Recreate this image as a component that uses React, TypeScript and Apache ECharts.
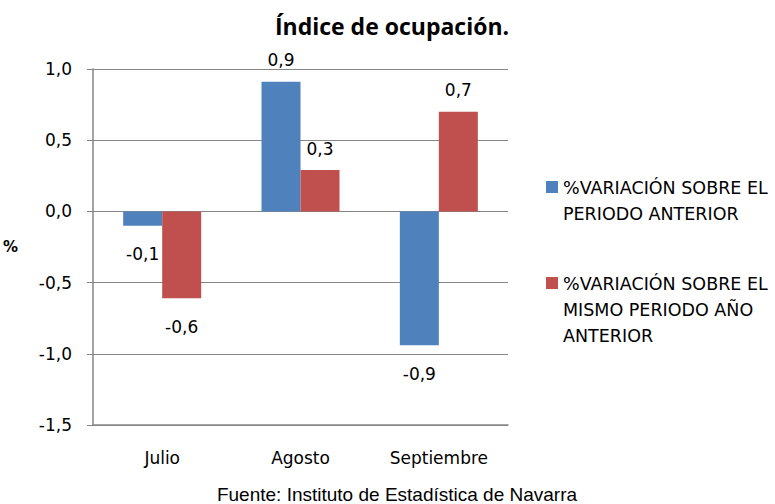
import React, { useEffect, useRef } from "react";
import * as echarts from "echarts";

const categories = ["Julio", "Agosto", "Septiembre"];
const seriesNames = [
  "%VARIACIÓN SOBRE EL\nPERIODO ANTERIOR",
  "%VARIACIÓN SOBRE EL\nMISMO PERIODO AÑO\nANTERIOR",
];
const periodoAnterior = [-0.1, 0.91, -0.94];
const mismoPeriodo = [-0.61, 0.29, 0.7];
const yTicks = { min: -1.5, max: 1.0, interval: 0.5 };
const colors = ["#4F81BD", "#C0504D"];

const FONT = "'DejaVu Sans', 'Open Sans', sans-serif";
const TITLE_FONT = "'Open Sans', Lato, sans-serif";

function fmt(v: number) {
  return v.toFixed(1).replace(".", ",");
}

function makeData(vals: number[]) {
  return vals.map((v) => ({
    value: v,
    label: {
      position: v >= 0 ? "top" : "bottom",
      distance: v >= 0 ? 13 : 20,
    },
  }));
}

export default function App() {
  const ref = useRef<HTMLDivElement>(null);
  useEffect(() => {
    if (!ref.current) return;
    const chart = echarts.init(ref.current, null, { renderer: "svg" });
    const labelCommon = {
      show: true,
      fontFamily: FONT,
      fontSize: 17,
      color: "#000",
      formatter: (p: any) => fmt(p.value),
    };
    chart.setOption({
      animation: false,
      backgroundColor: "#fff",
      title: {
        text: "Índice de ocupación.",
        left: 387,
        top: 9,
        textAlign: "center",
        textStyle: { fontFamily: TITLE_FONT, fontSize: 23, fontWeight: "bold", color: "#000" },
      },
      grid: { left: 93, right: 267, top: 69, bottom: 79 },
      xAxis: {
        type: "category",
        data: categories,
        axisLine: { show: true, onZero: false, lineStyle: { color: "#868686", width: 1.5 } },
        axisTick: { show: false },
        axisLabel: { margin: 24, fontFamily: FONT, fontSize: 17, color: "#000" },
      },
      yAxis: {
        type: "value",
        min: yTicks.min,
        max: yTicks.max,
        interval: yTicks.interval,
        name: "%",
        nameLocation: "middle",
        nameRotate: 0,
        nameGap: 75,
        nameTextStyle: { fontFamily: FONT, fontSize: 15, fontWeight: "bold", color: "#000", padding: [22, 0, 0, 0] },
        axisLine: { show: true, lineStyle: { color: "#868686", width: 1.5 } },
        axisTick: { show: true, length: 6, lineStyle: { color: "#868686" } },
        splitLine: { show: true, lineStyle: { color: "#868686", width: 1 } },
        axisLabel: {
          margin: 21,
          fontFamily: FONT,
          fontSize: 17,
          color: "#000",
          formatter: (v: number) => fmt(v),
        },
      },
      series: [
        {
          type: "bar",
          name: seriesNames[0],
          data: makeData(periodoAnterior),
          itemStyle: { color: colors[0] },
          barWidth: 39,
          barGap: "0%",
          label: labelCommon,
        },
        {
          type: "bar",
          name: seriesNames[1],
          data: makeData(mismoPeriodo),
          itemStyle: { color: colors[1] },
          barWidth: 39,
          barGap: "0%",
          label: labelCommon,
        },
      ],
      graphic: [
        { type: "rect", shape: { x: 546, y: 181, width: 12, height: 12 }, style: { fill: colors[0] } },
        {
          type: "text",
          x: 563,
          y: 175,
          style: { text: seriesNames[0], fontFamily: FONT, fontSize: 17.5, lineHeight: 26, fill: "#000" },
        },
        { type: "rect", shape: { x: 546, y: 277, width: 12, height: 12 }, style: { fill: colors[1] } },
        {
          type: "text",
          x: 563,
          y: 271,
          style: { text: seriesNames[1], fontFamily: FONT, fontSize: 17.5, lineHeight: 26, fill: "#000" },
        },
        {
          type: "text",
          x: 397,
          y: 494,
          style: {
            text: "Fuente: Instituto de Estadística de Navarra",
            fontFamily: "'Liberation Sans', Arial, sans-serif",
            fontSize: 19,
            fill: "#000",
            align: "center",
            verticalAlign: "middle",
          },
        },
      ],
    });
    return () => chart.dispose();
  }, []);
  return (
    <div
      ref={ref}
      style={{ position: "absolute", left: 0, top: 0, width: 775, height: 504 }}
    />
  );
}
